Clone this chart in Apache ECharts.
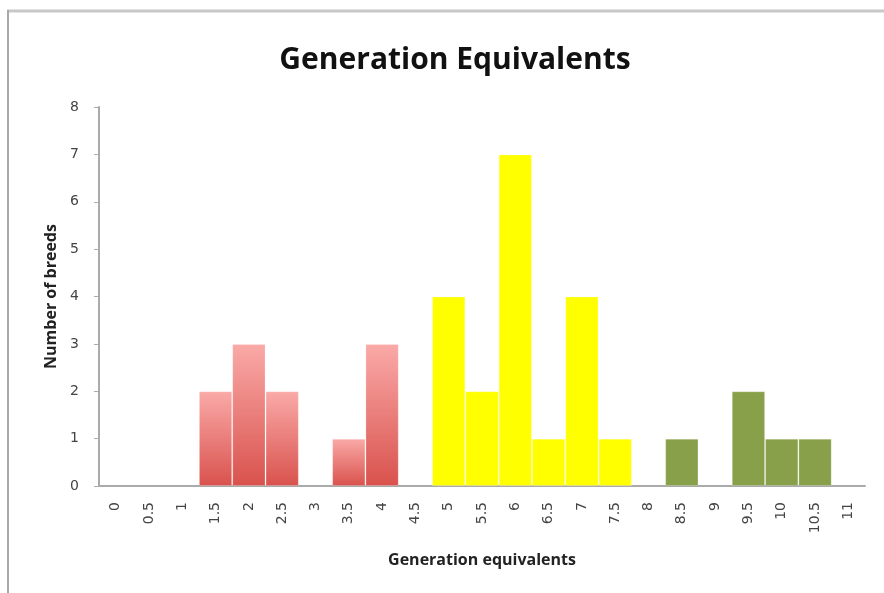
<!DOCTYPE html>
<html>
<head>
<meta charset="utf-8">
<script src="https://cdn.jsdelivr.net/npm/echarts@6/dist/echarts.min.js"></script>
<style>html,body{margin:0;padding:0;background:#fff;}#c{width:884px;height:593px;}</style>
</head>
<body>
<div id="c"></div>
<script>
const categories = ['0','0.5','1','1.5','2','2.5','3','3.5','4','4.5','5','5.5','6','6.5','7','7.5','8','8.5','9','9.5','10','10.5','11'];
const redValues    = [null,null,null,2,3,2,null,1,3,null,null,null,null,null,null,null,null,null,null,null,null,null,null];
const yellowValues = [null,null,null,null,null,null,null,null,null,null,4,2,7,1,4,1,null,null,null,null,null,null,null];
const greenValues  = [null,null,null,null,null,null,null,null,null,null,null,null,null,null,null,null,null,1,null,2,1,1,null];
const yTicks = [0,1,2,3,4,5,6,7,8];

const chart = echarts.init(document.getElementById('c'), null, {renderer:'canvas'});
const bar = (data, color) => ({
  type:'bar', stack:'all', data:data, barCategoryGap:'0%',
  itemStyle:{color:color, borderColor:'rgba(255,255,255,0.22)', borderWidth:1},
  emphasis:{disabled:true}
});
chart.setOption({
  animation:false,
  title:{text:'Generation Equivalents', left:450, top:40, textAlign:'center',
    textStyle:{fontFamily:'Open Sans', fontWeight:'bold', fontSize:30, color:'#111'}},
  grid:{left:99, right:19, top:107, bottom:107, containLabel:false},
  xAxis:{type:'category', data:categories, name:'Generation equivalents', nameLocation:'middle', nameGap:66,
    nameTextStyle:{fontFamily:'Open Sans', fontWeight:'bold', fontSize:16, color:'#222'},
    axisLine:{lineStyle:{color:'#aaa', width:2}}, axisTick:{show:false},
    axisLabel:{rotate:90, interval:0, margin:16, fontFamily:'DejaVu Sans', fontSize:14, color:'#444'}},
  yAxis:{type:'value', min:yTicks[0], max:yTicks[yTicks.length-1], interval:1, name:'Number of breeds', nameLocation:'middle', nameGap:38,
    nameTextStyle:{fontFamily:'Open Sans', fontWeight:'bold', fontSize:16, color:'#222'},
    axisLine:{show:true, lineStyle:{color:'#aaa', width:2}}, axisTick:{show:true, length:5, lineStyle:{color:'#aaa'}},
    splitLine:{show:false},
    axisLabel:{margin:20, fontFamily:'DejaVu Sans', fontSize:14, color:'#444'}},
  series:[
    bar(redValues, new echarts.graphic.LinearGradient(0,0,0,1,[{offset:0,color:'#faaaa8'},{offset:1,color:'#d9524d'}])),
    bar(yellowValues, '#ffff00'),
    bar(greenValues, '#88a04a')
  ],
  graphic:[
    {type:'line', shape:{x1:7, y1:11, x2:884, y2:11}, style:{stroke:'#c8c8c8', lineWidth:3}},
    {type:'line', shape:{x1:8, y1:10, x2:8, y2:593}, style:{stroke:'#a8a8a8', lineWidth:2}}
  ]
});
</script>
</body>
</html>
